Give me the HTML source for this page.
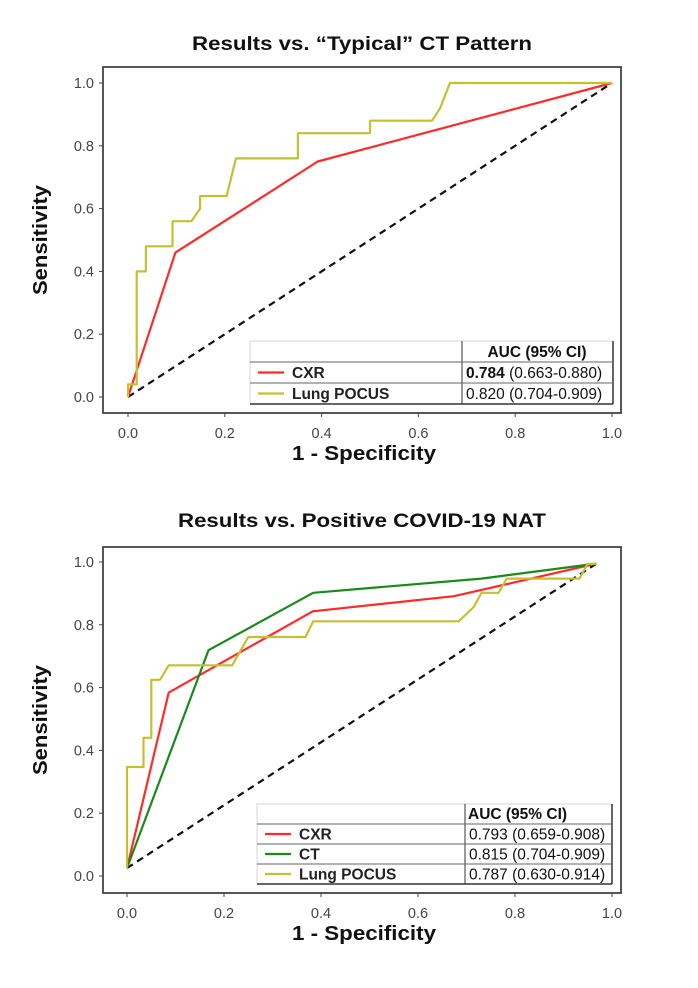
<!DOCTYPE html>
<html><head><meta charset="utf-8"><style>
html,body{margin:0;padding:0;background:#fff;}
svg{display:block;font-family:"Liberation Sans",Arial,sans-serif;}
</style></head><body>
<svg id="fig" width="698" height="988" viewBox="0 0 698 988"></svg>
<script>
// ---- data ----
const xTicks = [0,0.2,0.4,0.6,0.8,1.0];
const yTicks = [0,0.2,0.4,0.6,0.8,1.0];
const tickLabels = ["0.0","0.2","0.4","0.6","0.8","1.0"];
// Top chart
const topCxrX = [0,0.098,0.392,1.0];
const topCxrY = [0,0.46,0.75,1.0];
const topPocusX = [0,0,0.018,0.018,0.037,0.037,0.092,0.092,0.131,0.149,0.149,0.204,0.223,0.351,0.351,0.50,0.50,0.628,0.645,0.665,1.0];
const topPocusY = [0,0.04,0.04,0.40,0.40,0.48,0.48,0.56,0.56,0.60,0.64,0.64,0.76,0.76,0.84,0.84,0.88,0.88,0.92,1.0,1.0];
const topDiagX = [0,1]; const topDiagY = [0,1];
const topLegendNames = ["CXR","Lung POCUS"];
const topLegendAuc = ["0.784","0.820"];
const topLegendCi = ["(0.663-0.880)","(0.704-0.909)"];
// Bottom chart
const botCxrX = [0,0.086,0.383,0.674,0.968];
const botCxrY = [0.025,0.584,0.843,0.891,0.995];
const botCtX = [0,0.168,0.384,0.731,0.968];
const botCtY = [0.025,0.719,0.902,0.947,0.995];
const botPocusX = [0,0,0.034,0.034,0.05,0.05,0.068,0.086,0.217,0.25,0.368,0.384,0.684,0.715,0.731,0.766,0.783,0.933,0.949,0.968];
const botPocusY = [0.025,0.347,0.347,0.44,0.44,0.625,0.625,0.671,0.671,0.761,0.761,0.811,0.811,0.857,0.902,0.902,0.947,0.947,0.993,0.995];
const botDiagX = [0,0.968]; const botDiagY = [0.025,0.995];
const botLegendNames = ["CXR","CT","Lung POCUS"];
const botLegendAuc = ["0.793","0.815","0.787"];
const botLegendCi = ["(0.659-0.908)","(0.704-0.909)","(0.630-0.914)"];

const NS="http://www.w3.org/2000/svg";
const svg=document.getElementById('fig');
function mk(tag,attrs,parent,text){const e=document.createElementNS(NS,tag);for(const k in attrs)e.setAttribute(k,attrs[k]);if(text!==undefined)e.textContent=text;(parent||svg).appendChild(e);return e;}

const COLORS={cxr:"#ff2a2a",ct:"#1a8a1a",pocus:"#c4c030"};

function drawChart(cfg){
  const g=mk('g',{});
  
  
  const sx=v=>cfg.x0+(cfg.x1-cfg.x0)*v;
  const sy=v=>cfg.y0+(cfg.y1-cfg.y0)*v;
  const t=mk('text',{x:362,y:cfg.titleY,'text-anchor':'middle','font-size':19,'font-weight':'bold',fill:'#111',textLength:cfg.titleLen,lengthAdjust:'spacingAndGlyphs'},g,cfg.title);
  
  
  const fr=mk('rect',{x:cfg.fl,y:cfg.ft,width:cfg.fr-cfg.fl,height:cfg.fb-cfg.ft,fill:'none',stroke:'#444','stroke-width':1.8},g);
  
  
  xTicks.forEach((v,i)=>{
    mk('line',{x1:sx(v),x2:sx(v),y1:cfg.fb,y2:cfg.fb+4,stroke:'#444','stroke-width':1},g);
    const tl=mk('text',{x:sx(v),y:cfg.fb+25,'text-anchor':'middle','font-size':14.5,fill:'#444'},g,tickLabels[i]);
    
    
  });
  yTicks.forEach((v,i)=>{
    mk('line',{x1:cfg.fl-4,x2:cfg.fl,y1:sy(v),y2:sy(v),stroke:'#444','stroke-width':1},g);
    const tl=mk('text',{x:cfg.fl-9,y:sy(v)+5,'text-anchor':'end','font-size':14.5,fill:'#444'},g,tickLabels[i]);
    
    
  });
  const xl=mk('text',{x:(cfg.fl+cfg.fr)/2+2,y:cfg.fb+47,'text-anchor':'middle','font-size':20,'font-weight':'bold',fill:'#111',textLength:144,lengthAdjust:'spacingAndGlyphs'},g,'1 - Specificity');
  
  
  const cy=(cfg.ft+cfg.fb)/2;
  const yl=mk('text',{x:0,y:0,transform:`translate(47,${cy}) rotate(-90)`,'text-anchor':'middle','font-size':20,'font-weight':'bold',fill:'#111',textLength:110,lengthAdjust:'spacingAndGlyphs'},g,'Sensitivity');
  
  
  function line(xs,ys,color,name,dash){
    const d=xs.map((x,i)=>(i?'L':'M')+sx(x).toFixed(1)+' '+sy(ys[i]).toFixed(1)).join(' ');
    const p=mk('path',{d:d,fill:'none',stroke:color,'stroke-width':2.2,'stroke-linejoin':'round'},g);
    if(dash)p.setAttribute('stroke-dasharray',dash);
    
    
  }
  line(cfg.diagX,cfg.diagY,'#111','diagonal-reference-line','7,5');
  cfg.series.forEach(s=>line(s.x,s.y,s.color,s.name));
  const L=cfg.leg;
  const lg=mk('g',{},g);
  
  
  const bottom=L.rows[L.rows.length-1];
  mk('rect',{x:L.l,y:L.rows[0],width:L.r-L.l,height:bottom-L.rows[0],fill:'#fff',stroke:'#ccc','stroke-width':0.8},lg);
  mk('line',{x1:L.split,x2:L.split,y1:L.rows[0],y2:bottom,stroke:'#333','stroke-width':1},lg);
  mk('line',{x1:L.r,x2:L.r,y1:L.rows[0],y2:bottom,stroke:'#333','stroke-width':1.5},lg);
  mk('line',{x1:L.l,x2:L.r,y1:bottom,y2:bottom,stroke:'#333','stroke-width':1.5},lg);
  for(let i=1;i<L.rows.length-1;i++) mk('line',{x1:L.l,x2:L.r,y1:L.rows[i],y2:L.rows[i],stroke:'#666','stroke-width':1},lg);
  const hd=mk('text',{x:L.hx,y:L.rows[1]-5,'text-anchor':L.hAnchor,'font-size':15.5,'font-weight':'bold',fill:'#111'},lg,'AUC (95% CI)');
  
  
  cfg.series.forEach((s,i)=>{
    const ym=(L.rows[i+1]+L.rows[i+2])/2;
    const e=mk('g',{},lg);
    
    
    mk('line',{x1:L.l+8,x2:L.l+34,y1:ym,y2:ym,stroke:s.color,'stroke-width':2.2},e);
    mk('text',{x:L.l+42,y:ym+5.5,'font-size':15.5,'font-weight':'bold',fill:'#222'},e,cfg.names[i]);
    const tx=mk('text',{x:L.split+4,y:ym+5.5,'font-size':15.5,fill:'#111'},e);
    mk('tspan',{'font-weight':cfg.boldAuc&&i===0?'bold':'normal'},tx,cfg.auc[i]);
    mk('tspan',{},tx,' '+cfg.ci[i]);
  });
}

drawChart({name:'chart-typical-ct',title:'Results vs. \u201CTypical\u201D CT Pattern',titleY:50,titleLen:340,
  fl:103,fr:621,ft:67,fb:413,x0:128,x1:612,y0:397,y1:83,
  diagX:topDiagX,diagY:topDiagY,
  series:[{x:topCxrX,y:topCxrY,color:COLORS.cxr,name:'cxr-roc-line',key:'cxr'},
          {x:topPocusX,y:topPocusY,color:COLORS.pocus,name:'lung-pocus-roc-line',key:'lung-pocus'}],
  names:topLegendNames,auc:topLegendAuc,ci:topLegendCi,boldAuc:true,
  leg:{l:250,r:613,split:462,rows:[341,362,383,404],hx:537,hAnchor:'middle'}});

drawChart({name:'chart-covid-nat',title:'Results vs. Positive COVID-19 NAT',titleY:527,titleLen:368,
  fl:103,fr:621,ft:547,fb:893,x0:127,x1:612,y0:876,y1:562,
  diagX:botDiagX,diagY:botDiagY,
  series:[{x:botCxrX,y:botCxrY,color:COLORS.cxr,name:'cxr-roc-line',key:'cxr'},
          {x:botCtX,y:botCtY,color:COLORS.ct,name:'ct-roc-line',key:'ct'},
          {x:botPocusX,y:botPocusY,color:COLORS.pocus,name:'lung-pocus-roc-line',key:'lung-pocus'}],
  names:botLegendNames,auc:botLegendAuc,ci:botLegendCi,boldAuc:false,
  leg:{l:257,r:612,split:465,rows:[804,824,844,864,884],hx:468,hAnchor:'start'}});
</script>
</body></html>
